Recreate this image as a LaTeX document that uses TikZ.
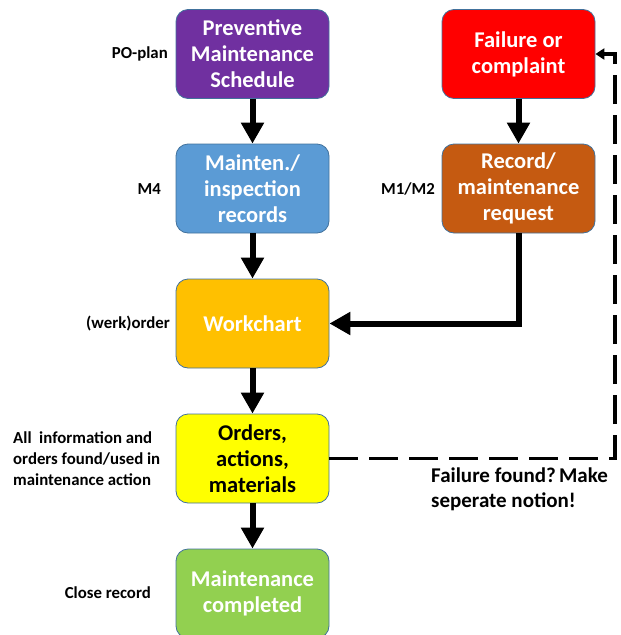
\documentclass[tikz,border=0pt]{standalone}
\usepackage{fontspec}
\setmainfont{Carlito}
\usetikzlibrary{arrows.meta}

\definecolor{boxline}{HTML}{41719C}
\definecolor{cpurple}{HTML}{7030A0}
\definecolor{cblue}{HTML}{5B9BD5}
\definecolor{cred}{HTML}{FF0000}
\definecolor{cbrown}{HTML}{C55A11}
\definecolor{corange}{HTML}{FFC000}
\definecolor{cyellow}{HTML}{FFFF00}
\definecolor{cgreen}{HTML}{92D050}

\begin{document}
\begin{tikzpicture}[x=1pt,y=-1pt,
  box/.style={draw=boxline, line width=0.8pt, rounded corners=12pt,
    minimum width=153pt, minimum height=89pt, inner sep=0pt,
    align=center, text=white,
    font=\fontsize{22.5}{26}\selectfont\bfseries},
  side/.style={inner sep=0pt, font=\fontsize{16.8}{21}\selectfont\bfseries},
  note/.style={inner sep=0pt, align=left, font=\fontsize{21}{25}\selectfont\bfseries},
  flow/.style={line width=6pt, -{Triangle[length=21pt,width=22pt]}},
  feedback/.style={line width=3.5pt, dash pattern=on 29pt off 11pt,
    -{Triangle[length=9pt,width=11pt]}}
]
\useasboundingbox (0,0) rectangle (621,635);
\clip (0,0) rectangle (621,635);

% process boxes
\node[box, fill=cpurple] (pm)   at (252.5,54)    {Preventive\\Maintenance\\Schedule};
\node[box, fill=cblue]   (insp) at (252.5,188.5) {Mainten./\\inspection\\records};
\node[box, fill=cred]    (fail) at (518.5,54)    {Failure or\\complaint};
\node[box, fill=cbrown]  (rec)  at (518.5,188.5) {Record/\\maintenance\\request};
\node[box, fill=corange] (work) at (252.5,323.5) {Workchart};
\node[box, fill=cyellow, text=black] (ord) at (252.5,458.5) {Orders,\\actions,\\materials};
\node[box, fill=cgreen]  (done) at (252.5,593.5) {Maintenance\\completed};

% side labels
\node[side, anchor=east] (lpo)  at (168,54)   {PO-plan};
\node[side, anchor=east] (lm4)  at (161,189)  {M4};
\node[side, anchor=east] (lm12) at (435,189)  {M1/M2};
\node[side, anchor=east] (lwo)  at (170,324)  {(werk)order};
\node[side, anchor=west, align=left] (linfo) at (13,459)
  {All\ \ information and\\orders found/used in\\maintenance action};
\node[side, anchor=east] (lclose) at (151,593) {Close record};
\node[note, anchor=west] (lnote) at (431,489.5) {Failure found?\hspace{0.15em}Make\\seperate notion!};

% main flow
\draw[flow] (pm) -- (insp);
\draw[flow] (insp) -- (work);
\draw[flow] (fail) -- (rec);
\draw[flow] (rec.south) |- (work.east);
\draw[flow] (work) -- (ord);
\draw[flow] (ord) -- (done);

% feedback loop
\coordinate (fb) at (615,0);
\draw[feedback] (ord.east) -| (fb |- fail.east) -- (fail.east);
\end{tikzpicture}
\end{document}
